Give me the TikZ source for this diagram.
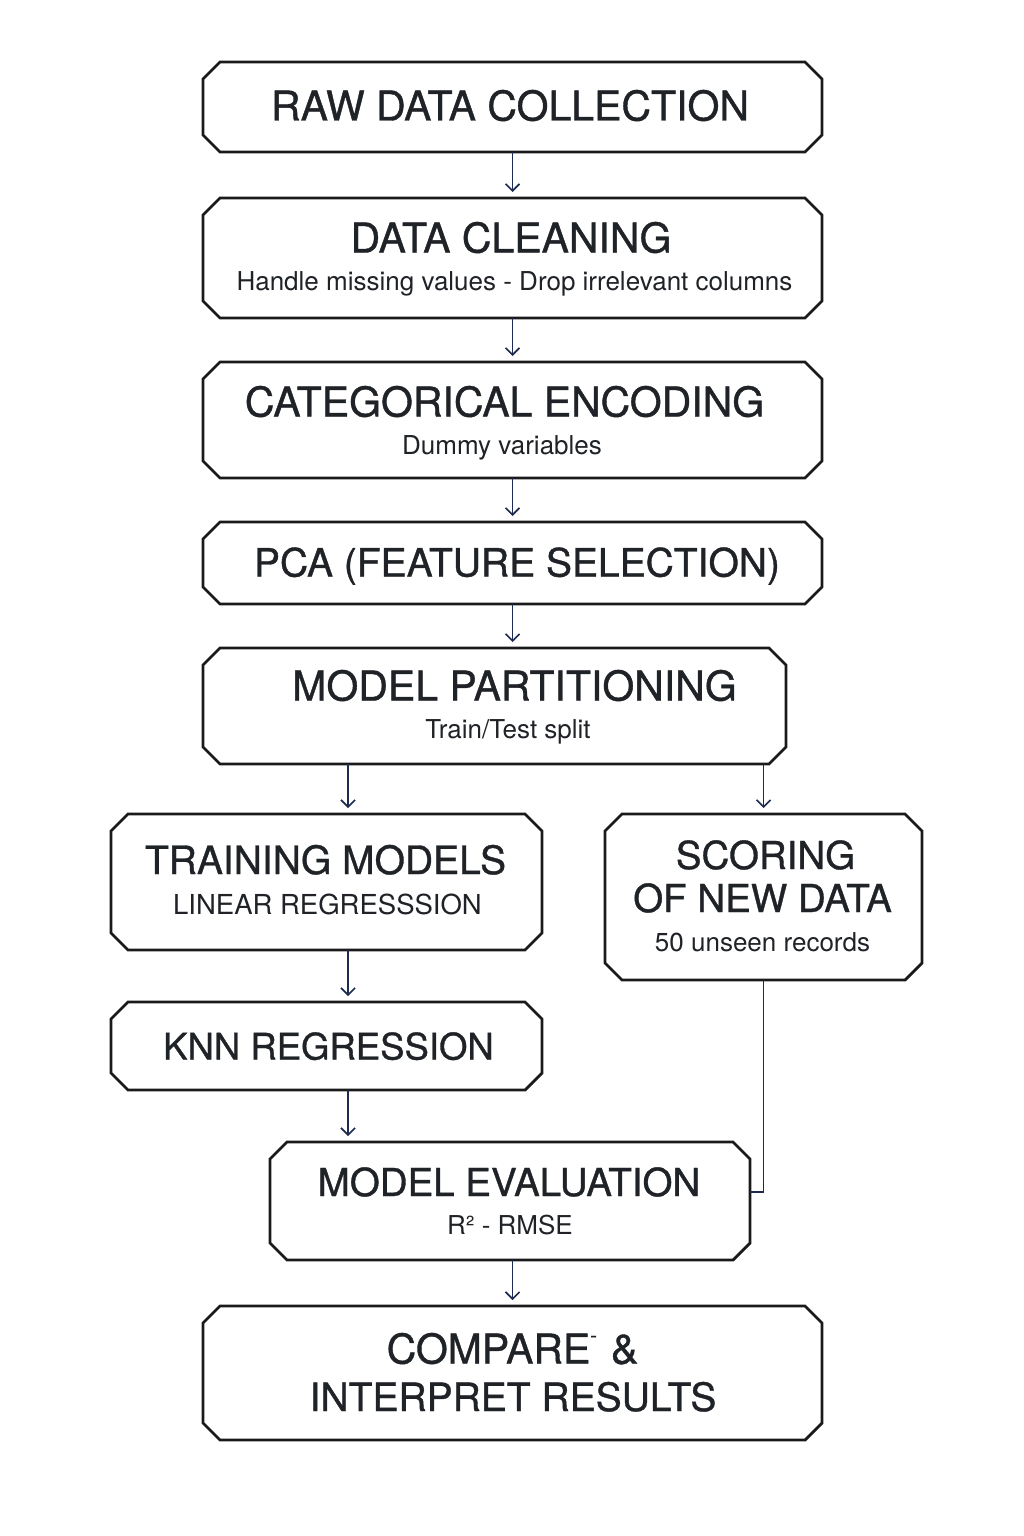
\documentclass[tikz,border=0pt]{standalone}
\usepackage{fontspec}
\setmainfont{TeX Gyre Heros}
\newfontfamily\titlefont{TeX Gyre Heros}[FakeBold=0.9]
\usetikzlibrary{arrows.meta}
\definecolor{boxline}{HTML}{1A1A1A}
\definecolor{navy}{HTML}{1C2B4F}
\definecolor{ink}{HTML}{1F2226}
\begin{document}
\begin{tikzpicture}[x=1pt,y=-1pt,
  flowbox/.style={rectangle, inner sep=0pt, outer sep=0pt},
  outline/.style={draw=boxline, line width=2.8pt, line join=miter, fill=white},
  ttl/.style={anchor=base, inner sep=0pt, text=ink, font=\titlefont\fontsize{#1}{#1}\selectfont},
  ttl/.default=41,
  sub/.style={anchor=base, inner sep=0pt, text=ink, font=\fontsize{#1}{#1}\selectfont},
  sub/.default=26,
  arr/.style={draw=navy, line width=1.6pt, -{Straight Barb[length=7pt,width=14pt,line width=1.6pt]}, shorten >=6pt},
  link/.style={draw=navy, line width=1.8pt}]
\useasboundingbox[fill=white] (0,0) rectangle (1024,1536);
% box nodes
\node[flowbox, minimum width=619pt, minimum height=90pt] (raw) at (512.5,107) {};
\node[flowbox, minimum width=619pt, minimum height=120pt] (clean) at (512.5,258) {};
\node[flowbox, minimum width=619pt, minimum height=116pt] (cat) at (512.5,420) {};
\node[flowbox, minimum width=619pt, minimum height=82pt] (pca) at (512.5,563) {};
\node[flowbox, minimum width=583pt, minimum height=116pt] (part) at (494.5,706) {};
\node[flowbox, minimum width=431pt, minimum height=136pt] (train) at (326.5,882) {};
\node[flowbox, minimum width=317pt, minimum height=166pt] (score) at (763.5,897) {};
\node[flowbox, minimum width=431pt, minimum height=88pt] (knn) at (326.5,1046) {};
\node[flowbox, minimum width=480pt, minimum height=118pt] (eval) at (510,1201) {};
\node[flowbox, minimum width=619pt, minimum height=134pt] (comp) at (512.5,1373) {};
% chamfered outlines
\foreach \n in {raw,clean,cat,pca,part,train,score,knn,eval,comp}{
  \draw[outline] ([xshift=17pt]\n.north west) -- ([xshift=-17pt]\n.north east)
    -- ([yshift=-17pt]\n.north east) -- ([yshift=17pt]\n.south east)
    -- ([xshift=-17pt]\n.south east) -- ([xshift=17pt]\n.south west)
    -- ([yshift=17pt]\n.south west) -- ([yshift=-17pt]\n.north west) -- cycle;
}
% texts
\node[ttl] (rawT) at (510,120.5) {RAW DATA COLLECTION};
\node[ttl] (cleanT) at (511,252.5) {DATA CLEANING};
\node[sub] (cleanS) at (514.5,290) {Handle missing values - Drop irrelevant columns};
\node[ttl] (catT) at (504.5,416.5) {CATEGORICAL ENCODING};
\node[sub] (catS) at (502,454) {Dummy variables};
\node[ttl=39] (pcaT) at (517,576.5) {PCA (FEATURE SELECTION)};
\node[ttl] (partT) at (514.5,700.5) {MODEL PARTITIONING};
\node[sub] (partS) at (508,738) {Train/Test split};
\node[ttl=39] (trainT) at (325.5,874) {TRAINING MODELS};
\node[sub=27.5] (trainS) at (327.5,914) {LINEAR REGRESSSION};
\node[ttl=38.5] (scoreT) at (765.5,869) {SCORING};
\node[ttl=38.5] (scoreU) at (762.5,912) {OF NEW DATA};
\node[sub] (scoreS) at (762.5,951) {50 unseen records};
\node[ttl=36.5] (knnT) at (328.5,1059.5) {KNN REGRESSION};
\node[ttl=38.5] (evalT) at (509,1196) {MODEL EVALUATION};
\node[sub] (evalS) at (510,1234) {R² - RMSE};
\node[ttl=41] (compT) at (512.5,1363.5) {COMPARE\raisebox{0.52em}{\fontsize{20}{20}\selectfont -}\hspace{14pt}\&};
\node[ttl=39] (compU) at (513,1411) {INTERPRET RESULTS};
% connectors
\coordinate (lx) at (348,0);
\coordinate (join) at ([yshift=9pt]eval.east);
\draw[arr] (raw.south) -- (clean.north);
\draw[arr] (clean.south) -- (cat.north);
\draw[arr] (cat.south) -- (pca.north);
\draw[arr] (pca.south -| raw.south) -- (part.north -| raw.south);
\draw[arr] (part.south -| lx) -- (train.north -| lx);
\draw[arr] (part.south -| score.north) -- (score.north);
\draw[arr] (train.south -| lx) -- (knn.north -| lx);
\draw[arr] (knn.south -| lx) -- (eval.north -| lx);
\draw[arr] (eval.south -| comp.north) -- (comp.north);
\draw[link] (score.south) |- (join);
\end{tikzpicture}
\end{document}
